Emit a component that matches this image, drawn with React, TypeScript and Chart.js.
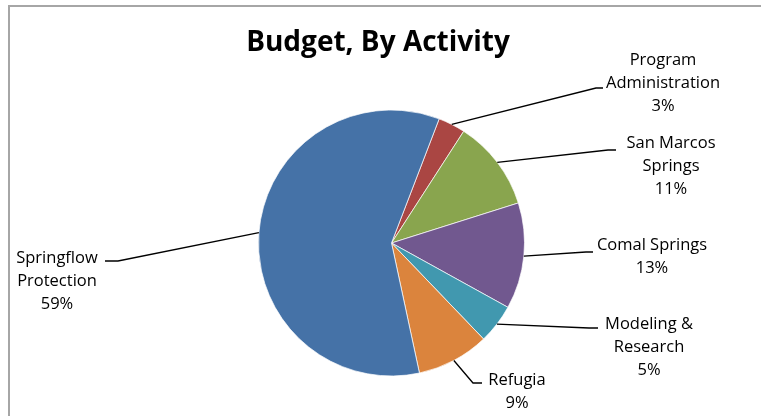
import React, { useEffect, useRef } from "react";
import { Chart, registerables } from "chart.js";

Chart.register(...registerables);

const chartTitle = "Budget, By Activity";
const categories = [
  ["Program", "Administration"],
  ["San Marcos", "Springs"],
  ["Comal Springs"],
  ["Modeling &", "Research"],
  ["Refugia"],
  ["Springflow", "Protection"],
];
const shares = [3.3, 11.0, 12.9, 4.8, 8.8, 59.2];
const sliceColors = ["#AA4643", "#89A54E", "#71588F", "#4198AF", "#DB843D", "#4572A7"];

// label layout (positions only)
const labelCenters = [
  [663, 60],
  [671, 143],
  [652, 245],
  [649, 324],
  [517, 380],
  [57, 258],
];
const leaderElbows = [
  [[596, 88], [603, 88]],
  [[608, 150], [616, 150]],
  [[586, 252], [593, 252]],
  [[589, 328], [598, 328]],
  [[473, 383], [482, 383]],
  [[118, 261], [105, 261]],
];

const labelPlugin = {
  id: "excelLabels",
  afterDraw(chart: any) {
    const ctx = chart.ctx;
    const meta = chart.getDatasetMeta(0);
    const values = chart.data.datasets[0].data as number[];
    const total = values.reduce((a, b) => a + b, 0);
    ctx.save();
    // title
    ctx.fillStyle = "#000000";
    ctx.font = "bold 28px 'Open Sans'";
    ctx.textAlign = "center";
    ctx.textBaseline = "alphabetic";
    ctx.fillText(chartTitle, 378, 51);

    // leader lines
    ctx.strokeStyle = "#000000";
    ctx.lineWidth = 1.3;
    meta.data.forEach((arc: any, i: number) => {
      const mid = (arc.startAngle + arc.endAngle) / 2;
      const sx = arc.x + Math.cos(mid) * arc.outerRadius;
      const sy = arc.y + Math.sin(mid) * arc.outerRadius;
      const [e, t] = leaderElbows[i];
      ctx.beginPath();
      ctx.moveTo(sx, sy);
      ctx.lineTo(e[0], e[1]);
      ctx.lineTo(t[0], t[1]);
      ctx.stroke();
    });

    // labels
    ctx.font = "16.5px 'Open Sans'";
    ctx.textBaseline = "middle";
    ctx.fillStyle = "#000000";
    values.forEach((v, i) => {
      const lines = [...categories[i], Math.round((v / total) * 100) + "%"];
      const [cx, cy] = labelCenters[i];
      lines.forEach((ln, j) => ctx.fillText(ln, cx, cy + j * 23));
    });
    ctx.restore();
  },
};

export default function App() {
  const canvasRef = useRef<HTMLCanvasElement | null>(null);
  useEffect(() => {
    document.body.style.margin = "0";
    const chart = new Chart(canvasRef.current as HTMLCanvasElement, {
      type: "pie",
      data: {
        labels: categories.map((c) => c.join(" ")),
        datasets: [
          {
            data: shares,
            backgroundColor: sliceColors,
            borderColor: "#ffffff",
            borderWidth: 0.7,
          },
        ],
      },
      options: {
        responsive: false,
        animation: false,
        devicePixelRatio: 1,
        rotation: 21,
        radius: 133,
        layout: { padding: { left: 258.5, right: 236.5, top: 110, bottom: 40 } },
        plugins: {
          legend: { display: false },
          tooltip: { enabled: false },
          title: { display: false },
        },
      },
      plugins: [labelPlugin],
    });
    return () => chart.destroy();
  }, []);
  return (
    <div style={{ position: "relative", width: 761, height: 416, overflow: "hidden", background: "#fff" }}>
      <canvas ref={canvasRef} width={761} height={416} style={{ position: "absolute", left: 0, top: 0 }} />
      <div
        style={{
          position: "absolute",
          left: 8,
          top: 5,
          width: 800,
          height: 500,
          borderTop: "2px solid #a6a6a6",
          borderLeft: "2px solid #a6a6a6",
          pointerEvents: "none",
        }}
      />
    </div>
  );
}
